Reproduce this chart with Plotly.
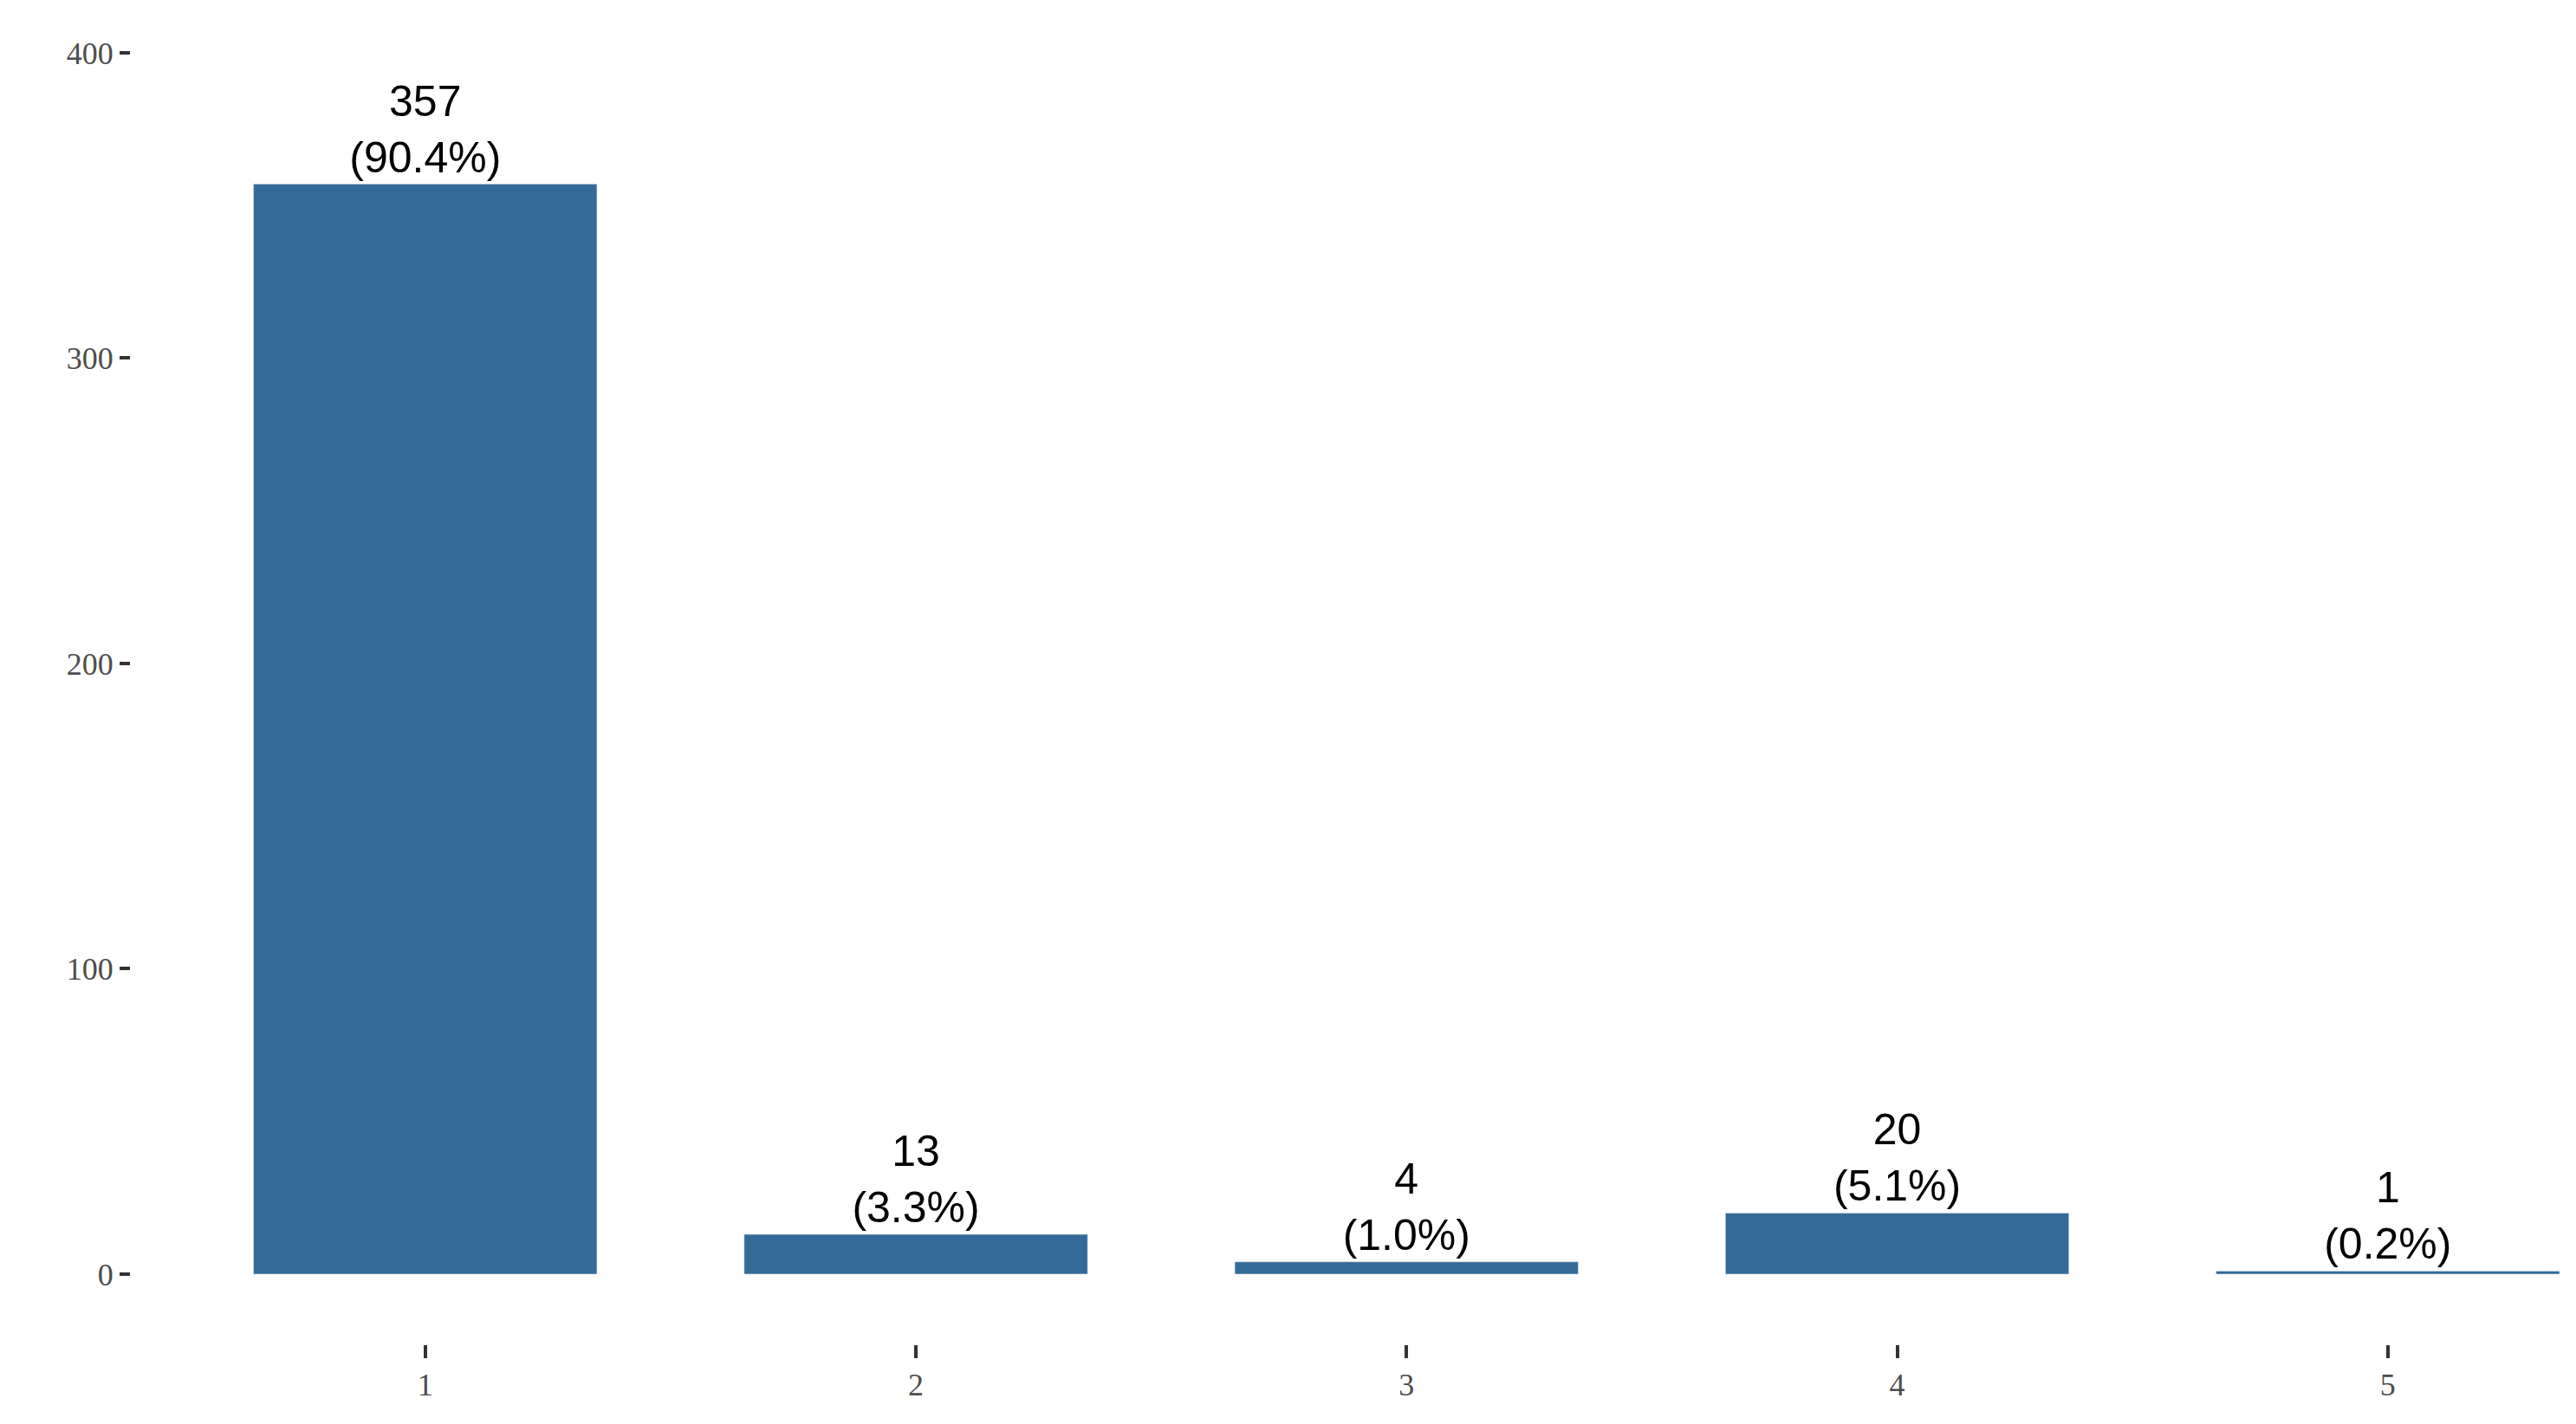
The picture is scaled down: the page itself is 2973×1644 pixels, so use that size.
import plotly.graph_objects as go

categories = [1, 2, 3, 4, 5]
counts = [357, 13, 4, 20, 1]
percents = ["90.4%", "3.3%", "1.0%", "5.1%", "0.2%"]
y_ticks = [0, 100, 200, 300, 400]

labels = [f"{c}<br>({p})" for c, p in zip(counts, percents)]

fig = go.Figure(go.Bar(
    x=categories, y=counts, width=0.7, marker_color="#336a98",
    text=labels, textposition="outside", cliponaxis=False,
    textfont=dict(family="Liberation Sans, Arial", size=50, color="black"),
))
fig.update_layout(
    width=2973, height=1644, plot_bgcolor="white", paper_bgcolor="white",
    margin=dict(l=143, r=27, t=53, b=100), showlegend=False,
    uniformtext=dict(mode=False),
)
fig.update_xaxes(range=[0.4, 5.35], tickvals=categories, ticks="outside", ticklen=15,
                 tickwidth=4, tickcolor="#333", showgrid=False, showline=False, zeroline=False,
                 tickfont=dict(family="Liberation Serif", size=36, color="#4d4d4d"))
fig.update_yaxes(range=[-23, 400], tickvals=y_ticks, ticks="outside", ticklen=12,
                 tickwidth=4, tickcolor="#333", showgrid=False, showline=False, zeroline=False,
                 tickfont=dict(family="Liberation Serif", size=36, color="#4d4d4d"))
fig.write_html("out.html")
